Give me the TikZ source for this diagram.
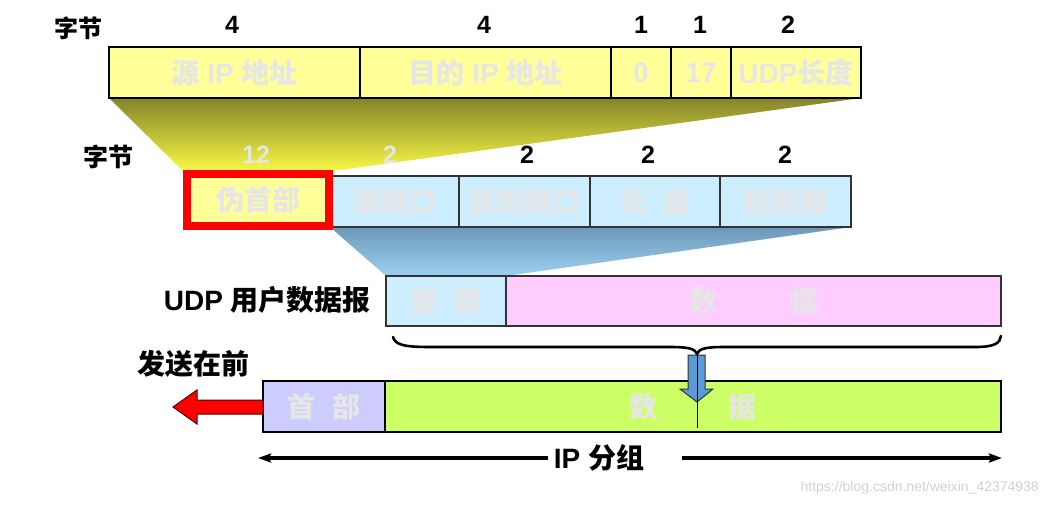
\documentclass[tikz,border=0pt]{standalone}
\usepackage{fontspec}
\setmainfont{Liberation Sans}
\newfontfamily\cjk{Noto Sans CJK SC}
\usetikzlibrary{arrows.meta}
\definecolor{yel}{HTML}{FFFF99}
\definecolor{lblue}{HTML}{CCEEFF}
\definecolor{pinkc}{HTML}{FFCCFF}
\definecolor{lav}{HTML}{CCCCFF}
\definecolor{grn}{HTML}{CCFF66}
\definecolor{lgray}{HTML}{E6E6E6}
\definecolor{oliv}{HTML}{84842A}
\definecolor{byel}{HTML}{F8F846}
\definecolor{dblue}{HTML}{6C98B8}
\definecolor{sblue}{HTML}{9CD0F2}
\definecolor{arrblue}{HTML}{5B9BD5}
\definecolor{wmgray}{HTML}{D0D0D0}
\newcommand\zh[1]{{\cjk\bfseries #1}}
\begin{document}
\begin{tikzpicture}[x=1pt,y=-1pt,
  cell/.style={draw=black, line width=1.8pt, inner sep=0pt, outer sep=0pt, anchor=north west,
    minimum height=51pt, text=lgray, font=\bfseries\fontsize{28}{30}\selectfont},
  cellb/.style={cell, draw=black!80, line width=1.3pt, fill=lblue},
  num/.style={font=\bfseries\fontsize{25}{25}\selectfont, inner sep=0pt},
  lbl/.style={font=\bfseries\fontsize{28}{30}\selectfont, inner sep=0pt},
  spanarrow/.style={-{Stealth[length=13pt,width=9pt,inset=2pt]}, line width=3.2pt}]
\useasboundingbox (0,0) rectangle (1048,507);
% funnels
\shade[top color=oliv, bottom color=byel] (109,98) -- (861,98) -- (333,171) -- (183,171) -- cycle;
\shade[top color=dblue, bottom color=sblue] (330,227) -- (851,227) -- (506,276) -- (386,276) -- cycle;
% row 1
\node[lbl, font=\bfseries\fontsize{24}{24}\selectfont] (zj1) at (78,28) {\zh{字节}};
\node[num] (n11) at (232,25) {4};
\node[num] (n12) at (484,25) {4};
\node[num] (n13) at (641,25) {1};
\node[num] (n14) at (700,25) {1};
\node[num] (n15) at (788,25) {2};
\node[cell, fill=yel, minimum width=251pt] (a1) at (109,47) {\zh{源} IP \zh{地址}\hspace{12pt}};
\node[cell, fill=yel, minimum width=251pt] (a2) at (360,47) {\zh{目的} IP \zh{地址}};
\node[cell, fill=yel, minimum width=60pt] (a3) at (611,47) {0};
\node[cell, fill=yel, minimum width=60pt] (a4) at (671,47) {17};
\node[cell, fill=yel, minimum width=130pt] (a5) at (731,47) {UDP\zh{长度}};
% row 2
\node[lbl, font=\bfseries\fontsize{25}{25}\selectfont] (zj2) at (108,157) {\zh{字节}};
\node[num, text=lgray] (n21) at (256,155) {12};
\node[num, text=lgray] (n22) at (390,155) {2};
\node[num] (n23) at (527,155) {2};
\node[num] (n24) at (648,155) {2};
\node[num] (n25) at (785,155) {2};
\node[cellb, minimum width=129pt] (b2) at (330,176) {\zh{源端口}};
\node[cellb, minimum width=131pt] (b3) at (459,176) {\zh{目的端口}};
\node[cellb, minimum width=130pt] (b4) at (590,176) {\zh{长\hspace{18pt}度}};
\node[cellb, minimum width=131pt] (b5) at (720,176) {\zh{检验和}};
\node[cell, anchor=center, draw=red, line width=8pt, fill=yel, minimum width=142pt, minimum height=52pt] (b1) at (258,200) {\zh{伪首部}};
% UDP datagram
\node[lbl, anchor=east] (udpl) at (371,300) {UDP \zh{用户数据报}};
\node[cellb, line width=1.5pt, minimum width=120pt, minimum height=50pt] (u1) at (386,276) {\zh{首\hspace{15pt}部}};
\node[cell, draw=black!80, line width=1.5pt, fill=pinkc, minimum width=495pt, minimum height=50pt] (u2) at (506,276) {\zh{数\hspace{73pt}据}};
% brace
\draw[line width=2.6pt, line cap=round] (393,337) .. controls (395,345) and (405,347) .. (430,347) -- (670,347)
  .. controls (690,347) and (695,349) .. (697,354) .. controls (699,349) and (704,347) .. (724,347)
  -- (975,347) .. controls (995,347) and (1000,343) .. (1001,336);
% IP packet
\node[lbl] (send) at (193,364) {\zh{发送在前}};
\node[cell, fill=lav, minimum width=122pt, minimum height=51pt] (p1) at (263,381) {\zh{首\hspace{17pt}部}};
\node[cell, fill=grn, minimum width=616pt, minimum height=51pt] (p2) at (385,381) {\zh{数\hspace{72pt}据}};
% blue down arrow
\draw[fill=arrblue, draw=black!80, line width=1pt] (688,355) -- (705,355) -- (705,389) -- (713,389) -- (697,402) -- (680,389) -- (688,389) -- cycle;
\draw[line width=1pt] (697,354) -- (697,402);
\draw[line width=0.6pt] (697,402) -- (697,428);
% red arrow
\draw[fill=red, draw=black!70!red, line width=1pt] (263,400) -- (197,400) -- (197,390) -- (173,407) -- (197,424) -- (197,414) -- (263,414) -- cycle;
% IP packet span
\node[lbl] (ipg) at (599,458) {IP \zh{分组}};
\coordinate (ipL) at (258,458);
\coordinate (ipR) at (1002,458);
\coordinate (ipM) at (682,458);
\coordinate (ipN) at (548,458);
\draw[spanarrow] (ipN) -- (ipL);
\draw[spanarrow] (ipM) -- (ipR);
% watermark
\node[text=wmgray, font=\fontsize{14}{14}\selectfont, anchor=east, inner sep=0pt] (wm) at (1039,488) {https://blog.csdn.net/weixin\_42374938};
\end{tikzpicture}
\end{document}
